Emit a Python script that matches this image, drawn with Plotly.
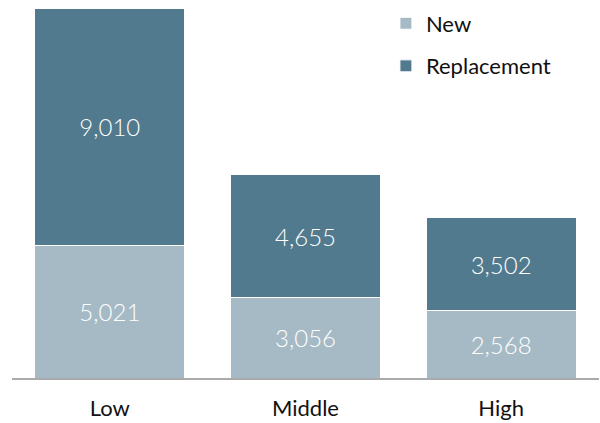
import plotly.graph_objects as go

categories = ["Low", "Middle", "High"]
new_vals = [5021, 3056, 2568]
replacement_vals = [9010, 4655, 3502]

FONT = "Lato, 'Open Sans', sans-serif"
C_NEW = "#a6bac5"
C_REP = "#527a8e"

fig = go.Figure()
fig.add_trace(go.Bar(
    x=categories, y=new_vals, name="New", legendgroup="a",
    marker=dict(color=C_NEW, line=dict(color="white", width=1)),
    text=[f"{v:,}" for v in new_vals], textposition="inside",
    insidetextanchor="middle",
    textfont=dict(color="white", size=24, family=FONT, weight=300),
))
fig.add_trace(go.Bar(
    x=categories, y=replacement_vals, name="Replacement", legendgroup="b",
    marker=dict(color=C_REP, line=dict(color="white", width=1)),
    text=[f"{v:,}" for v in replacement_vals], textposition="inside",
    insidetextanchor="middle",
    textfont=dict(color="white", size=24, family=FONT, weight=300),
))

total_max = max(a + b for a, b in zip(new_vals, replacement_vals))

fig.update_layout(
    barmode="stack",
    bargap=0.233,
    width=600, height=423,
    margin=dict(l=12, r=1, t=8, b=45),
    plot_bgcolor="white", paper_bgcolor="white",
    font=dict(family=FONT, color="#111111", size=22),
    showlegend=True,
    legend=dict(
        x=0.637, y=1.015, xanchor="left", yanchor="top",
        traceorder="grouped", tracegroupgap=11,
        font=dict(size=22, color="#111111"),
        itemwidth=30, bgcolor="rgba(0,0,0,0)",
    ),
    uniformtext=dict(mode="show", minsize=10),
)
fig.update_xaxes(
    showline=True, linecolor="#aaaaaa", linewidth=2,
    ticks="", tickfont=dict(size=22, color="#111111"),
    ticklabelstandoff=10, automargin=False,
)
fig.update_yaxes(
    range=[0, total_max], visible=False, showgrid=False, automargin=False,
)

fig.write_html(
    "out.html",
    config={"displayModeBar": False},
    post_script="document.body.style.margin='0';document.body.style.overflow='hidden';",
)
